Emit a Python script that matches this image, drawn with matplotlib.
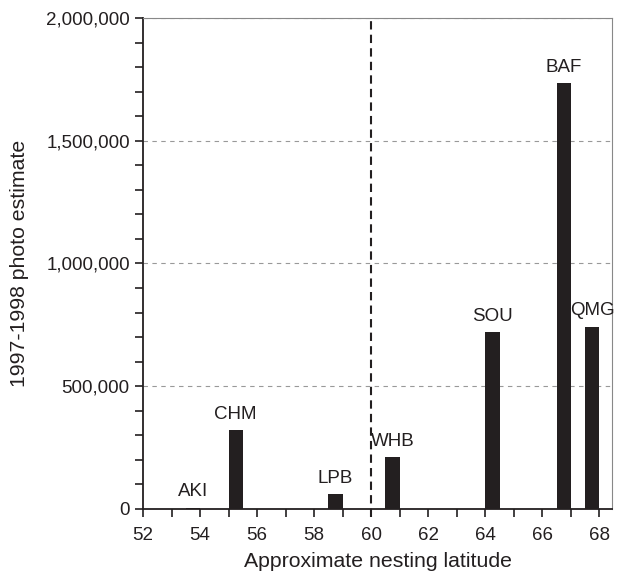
import numpy as np
import matplotlib.pyplot as plt
from matplotlib.ticker import MultipleLocator, FuncFormatter

plt.rcParams['font.family'] = ['Liberation Sans', 'DejaVu Sans']

# colony codes, approximate nesting latitude (bar centre), photo estimate
colonies = ['AKI', 'CHM', 'LPB', 'WHB', 'SOU', 'BAF', 'QMG']
latitude = [53.75, 55.25, 58.75, 60.75, 64.25, 66.75, 67.75]
estimate = [6000, 320000, 60000, 210000, 720000, 1735000, 743000]

ink = '#231f20'

fig = plt.figure(figsize=(6.17, 5.73), dpi=100)
ax = fig.add_axes([0.2318, 0.1117, 0.7605, 0.8569])

ax.bar(latitude, estimate, width=0.5, color=ink, zorder=3)
for lat, val, name in zip(latitude, estimate, colonies):
    ax.annotate(name, (lat, val), xytext=(0, 8), textcoords='offset points',
                ha='center', va='baseline', fontsize=13.5, color=ink, zorder=4)

ax.set_xlim(52, 68.45)
ax.set_ylim(0, 2000000)

ax.xaxis.set_major_locator(MultipleLocator(2))
ax.xaxis.set_minor_locator(MultipleLocator(1))
ax.yaxis.set_major_locator(MultipleLocator(500000))
ax.yaxis.set_minor_locator(MultipleLocator(100000))
ax.yaxis.set_major_formatter(FuncFormatter(lambda v, p: f'{int(v):,}'))

ax.tick_params(axis='both', which='both', direction='out', length=6, width=1.2,
               color=ink, labelsize=13.5, labelcolor=ink)
ax.tick_params(axis='x', pad=7)

ax.grid(axis='y', which='major', linestyle=(0, (4, 4)), color='#999999', linewidth=0.8, zorder=1)

for s in ['left', 'bottom']:
    ax.spines[s].set_color(ink)
    ax.spines[s].set_linewidth(1.3)
for s in ['top', 'right']:
    ax.spines[s].set_color('#888888')
    ax.spines[s].set_linewidth(0.8)

ax.axvline(60, ymin=-0.017, ymax=1, color=ink, linestyle=(0, (4, 2.5)), linewidth=1.5,
           clip_on=False, zorder=2)

ax.set_xlabel('Approximate nesting latitude', fontsize=15.3, color=ink)
ax.set_ylabel('1997-1998 photo estimate', fontsize=15.3, color=ink)
ax.xaxis.set_label_coords(0.5, -0.087)
ax.yaxis.set_label_coords(-0.243, 0.5)

fig.savefig('out.png', dpi=100)
